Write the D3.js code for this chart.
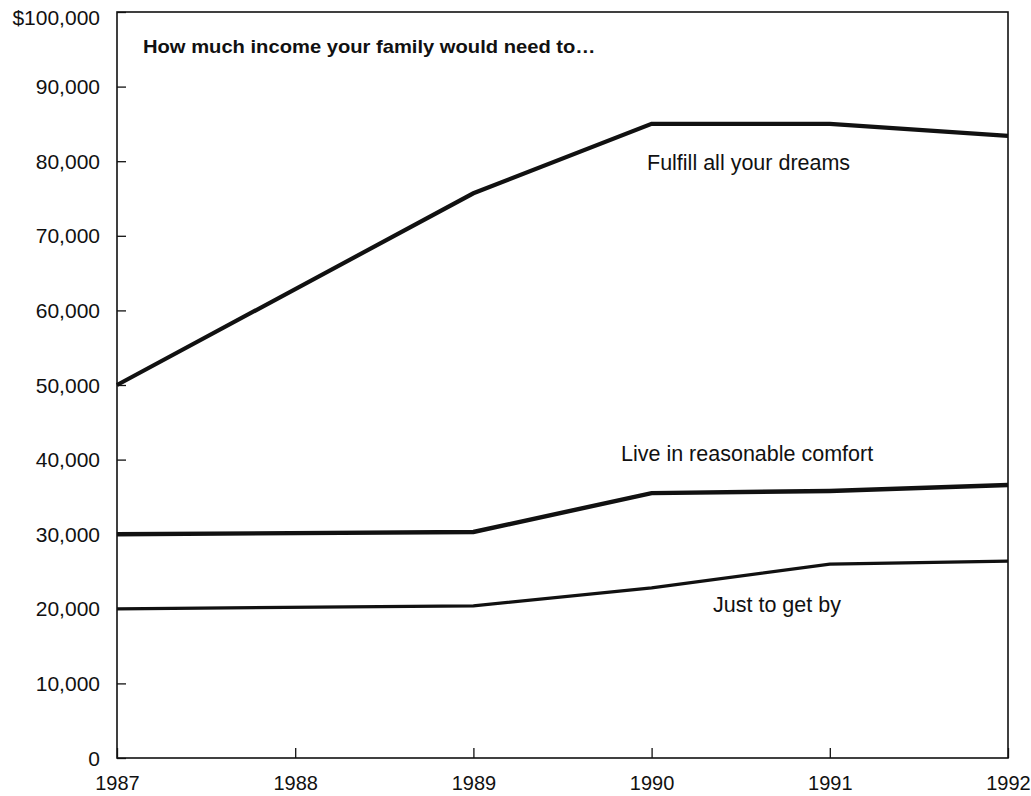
<!DOCTYPE html>
<html>
<head>
<meta charset="utf-8">
<script src="https://cdn.jsdelivr.net/npm/d3@7"></script>
<style>
  html, body { margin: 0; padding: 0; background: #fff; }
  svg { display: block; }
  text { font-family: "Liberation Sans", Arial, Helvetica, sans-serif; fill: #111; }
</style>
</head>
<body>
<svg id="chart" width="1031" height="796"></svg>
<script>
// Survey years shown on the axis and years with a reported value
const tickYears = [1987, 1988, 1989, 1990, 1991, 1992];
const dataYears = [1987, 1989, 1990, 1991, 1992];

// Income needed (dollars) for each goal
const fulfillDreams     = [50000, 75700, 85000, 85000, 83400];
const reasonableComfort = [30000, 30300, 35500, 35800, 36600];
const justGetBy         = [20000, 20400, 22800, 26000, 26400];

const yTicks = [0, 10000, 20000, 30000, 40000, 50000, 60000, 70000, 80000, 90000, 100000];

const seriesNames = ["Fulfill all your dreams", "Live in reasonable comfort", "Just to get by"];
const titleText = "How much income your family would need to\u2026";

const svg = d3.select("#chart");
const plotLeft = 117, plotRight = 1008, plotTop = 12, plotBottom = 758;

const x = d3.scaleLinear().domain([1987, 1992]).range([plotLeft, plotRight]);
const y = d3.scaleLinear().domain([0, 100000]).range([plotBottom, plotTop]);

const fmt = d3.format(",");

// Frame around the plotting area
svg.append("rect")
  .attr("x", plotLeft).attr("y", plotTop)
  .attr("width", plotRight - plotLeft).attr("height", plotBottom - plotTop)
  .attr("fill", "none").attr("stroke", "#111").attr("stroke-width", 1.6);

// Y axis: ticks point into the plot
const yAxis = svg.append("g")
  .attr("transform", `translate(${plotLeft},0)`)
  .call(d3.axisLeft(y)
    .tickValues(yTicks)
    .tickSizeInner(-9)
    .tickSizeOuter(0)
    .tickPadding(17)
    .tickFormat(d => d === 100000 ? "$" + fmt(d) : fmt(d)));
yAxis.select(".domain").remove();
yAxis.selectAll("line").attr("stroke", "#111").attr("stroke-width", 1.3);
yAxis.selectAll("text")
  .attr("font-size", 21)
  .attr("fill", "#111")
  .attr("dy", d => d === 100000 ? "0.6em" : "0.34em");

// X axis: ticks point up into the plot
const xAxis = svg.append("g")
  .attr("transform", `translate(0,${plotBottom})`)
  .call(d3.axisBottom(x)
    .tickValues(tickYears)
    .tickSizeInner(-10)
    .tickSizeOuter(0)
    .tickPadding(18)
    .tickFormat(d3.format("d")));
xAxis.select(".domain").remove();
xAxis.selectAll("line").attr("stroke", "#111").attr("stroke-width", 1.3);
xAxis.selectAll("text").attr("font-size", 20).attr("fill", "#111");

// Series lines
const line = d3.line()
  .x((d, i) => x(dataYears[i]))
  .y(d => y(d));

const series = [
  { values: fulfillDreams, width: 4.2 },
  { values: reasonableComfort, width: 4.4 },
  { values: justGetBy, width: 3.2 }
];

svg.append("g").selectAll("path")
  .data(series)
  .join("path")
  .attr("d", s => line(s.values))
  .attr("fill", "none")
  .attr("stroke", "#111")
  .attr("stroke-width", s => s.width)
  .attr("stroke-linejoin", "miter");

// Series labels placed near the lines
const labelSpots = [
  { text: seriesNames[0], x: 647, y: 170 },
  { text: seriesNames[1], x: 621, y: 461 },
  { text: seriesNames[2], x: 713, y: 612 }
];
svg.append("g").selectAll("text")
  .data(labelSpots)
  .join("text")
  .attr("x", d => d.x)
  .attr("y", d => d.y)
  .attr("font-size", 21.5)
  .text(d => d.text);

// Heading inside the frame, in a slightly extended bold face
svg.append("text")
  .attr("transform", "translate(143,53) scale(1.12,1)")
  .attr("font-size", 18)
  .attr("font-weight", "bold")
  .text(titleText);
</script>
</body>
</html>
